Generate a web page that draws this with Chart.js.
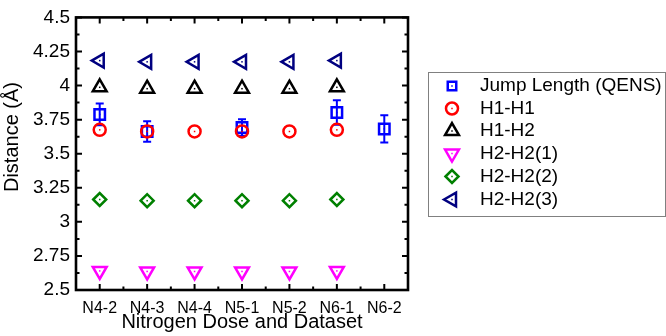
<!DOCTYPE html>
<html><head><meta charset="utf-8">
<script src="https://cdn.jsdelivr.net/npm/chart.js@4/dist/chart.umd.min.js"></script>
<style>html,body{margin:0;padding:0;background:#fff}#wrap{width:666px;height:336px;position:relative}</style>
</head><body><div id="wrap"><canvas id="c" width="666" height="336"></canvas></div>
<script>
const categories = ['N4-2','N4-3','N4-4','N5-1','N5-2','N6-1','N6-2'];
const jumpLength = [3.788, 3.663, null, 3.692, null, 3.802, 3.682];
const jumpError  = [0.08, 0.075, null, 0.06, null, 0.09, 0.1];
const h1h1   = [3.675, 3.663, 3.663, 3.663, 3.663, 3.675, null];
const h1h2   = [3.987, 3.977, 3.977, 3.977, 3.977, 3.987, null];
const h2h2_1 = [2.640, 2.636, 2.636, 2.636, 2.636, 2.640, null];
const h2h2_2 = [3.164, 3.155, 3.155, 3.155, 3.155, 3.164, null];
const h2h2_3 = [4.183, 4.174, 4.174, 4.174, 4.174, 4.183, null];
const yTicks = [2.5, 2.75, 3, 3.25, 3.5, 3.75, 4, 4.25, 4.5];
const seriesNames = ['Jump Length (QENS)','H1-H1','H1-H2','H2-H2(1)','H2-H2(2)','H2-H2(3)'];
const xTitle = 'Nitrogen Dose and Dataset';
const yTitle = 'Distance (Å)';

const FONT = '"Liberation Sans", Arial, sans-serif';

function ds(label, data, color, style, radius, rotation, order){
  return {label, data, borderColor: color, backgroundColor: 'rgba(0,0,0,0)',
    pointStyle: style, pointRadius: radius, pointHoverRadius: radius, pointBorderWidth: 2.5,
    pointRotation: rotation, showLine: false, order, spanGaps: false};
}

const datasets = [
  ds(seriesNames[0], jumpLength, '#0000ff', 'rect', 7.4, 0, 5),
  ds(seriesNames[1], h1h1, '#ff0000', 'circle', 6, 0, 1),
  ds(seriesNames[2], h1h2, '#000000', 'triangle', 8, 0, 1),
  ds(seriesNames[3], h2h2_1, '#ff00ff', 'triangle', 8, 180, 1),
  ds(seriesNames[4], h2h2_2, '#008000', 'rectRot', 6.5, 0, 1),
  ds(seriesNames[5], h2h2_3, '#000080', 'triangle', 8, -90, 1)
];

const errorBars = {
  id: 'errorBars',
  beforeDatasetsDraw(chart){
    const {ctx, scales:{x, y}} = chart;
    ctx.save();
    ctx.strokeStyle = '#0000ff'; ctx.lineWidth = 2;
    ctx.beginPath();
    jumpLength.forEach((v, i) => {
      if (v == null || jumpError[i] == null) return;
      const px = x.getPixelForValue(i);
      const yt = y.getPixelForValue(v + jumpError[i]);
      const yb = y.getPixelForValue(v - jumpError[i]);
      ctx.moveTo(px, yt); ctx.lineTo(px, yb);
      ctx.moveTo(px - 4, yt); ctx.lineTo(px + 4, yt);
      ctx.moveTo(px - 4, yb); ctx.lineTo(px + 4, yb);
    });
    ctx.stroke();
    ctx.restore();
  }
};

const centerDots = {
  id: 'centerDots',
  afterDatasetsDraw(chart){
    const ctx = chart.ctx;
    ctx.save();
    chart.data.datasets.forEach((d, di) => {
      const meta = chart.getDatasetMeta(di);
      ctx.fillStyle = d.borderColor;
      meta.data.forEach((pt, i) => {
        if (d.data[i] == null) return;
        ctx.fillRect(pt.x - 0.75, pt.y - 0.75, 1.5, 1.5);
      });
    });
    ctx.restore();
  }
};

const frame = {
  id: 'frame',
  afterDraw(chart){
    const {ctx, chartArea:{left, right, top, bottom}, scales:{x, y}} = chart;
    ctx.save();
    ctx.strokeStyle = '#000';
    ctx.lineWidth = 2;
    ctx.beginPath();
    yTicks.forEach((t, i) => {
      const py = y.getPixelForValue(t);
      ctx.moveTo(left, py); ctx.lineTo(left + 6, py);
      ctx.moveTo(right, py); ctx.lineTo(right - 6, py);
      if (i < yTicks.length - 1) {
        const pm = y.getPixelForValue((t + yTicks[i + 1]) / 2);
        ctx.moveTo(left, pm); ctx.lineTo(left + 3.5, pm);
        ctx.moveTo(right, pm); ctx.lineTo(right - 3.5, pm);
      }
    });
    const half = (x.getPixelForValue(1) - x.getPixelForValue(0)) / 2;
    categories.forEach((c, i) => {
      const px = x.getPixelForValue(i);
      ctx.moveTo(px, bottom); ctx.lineTo(px, bottom - 6);
      ctx.moveTo(px, top); ctx.lineTo(px, top + 6);
      if (i < categories.length - 1) {
        ctx.moveTo(px + half, bottom); ctx.lineTo(px + half, bottom - 3.5);
        ctx.moveTo(px + half, top); ctx.lineTo(px + half, top + 3.5);
      }
    });
    ctx.stroke();
    ctx.lineWidth = 2.6;
    ctx.strokeRect(left, top, right - left, bottom - top);

    // axis titles
    ctx.fillStyle = '#000';
    ctx.font = '20px ' + FONT;
    ctx.textAlign = 'center'; ctx.textBaseline = 'middle';
    ctx.fillText(xTitle, (left + right) / 2, 322);
    ctx.translate(12, 137);
    ctx.rotate(-Math.PI / 2);
    ctx.fillText(yTitle, 0, 0);
    ctx.restore();

    // legend
    ctx.save();
    ctx.strokeStyle = '#808080'; ctx.lineWidth = 1;
    ctx.strokeRect(428.5, 72.5, 237, 144);
    const rows = [86, 108.5, 131, 153.5, 176.5, 199.5];
    ctx.font = '19px ' + FONT;
    ctx.textAlign = 'left'; ctx.textBaseline = 'middle';
    chart.data.datasets.forEach((d, i) => {
      const r = d.pointStyle === 'rect' ? 6 : d.pointRadius;
      ctx.strokeStyle = d.borderColor; ctx.fillStyle = 'rgba(0,0,0,0)';
      ctx.lineWidth = 2.5;
      Chart.helpers.drawPoint(ctx, {pointStyle: d.pointStyle, radius: r, rotation: d.pointRotation, borderWidth: 2.5}, 452, rows[i]);
      ctx.fillStyle = d.borderColor;
      ctx.fillRect(452 - 0.75, rows[i] - 0.75, 1.5, 1.5);
      ctx.fillStyle = '#000';
      ctx.fillText(d.label, 480, rows[i]);
    });
    ctx.restore();
  }
};

new Chart(document.getElementById('c'), {
  type: 'line',
  data: { labels: categories, datasets },
  options: {
    responsive: false,
    animation: false,
    events: [],
    layout: { padding: { top: 12, right: 258, left: 0, bottom: 0 } },
    plugins: { legend: { display: false }, tooltip: { enabled: false } },
    scales: {
      x: {
        type: 'category', offset: true,
        grid: { display: false, drawTicks: false },
        border: { display: false },
        ticks: { color: '#000', font: { family: FONT, size: 16 }, padding: 9, maxRotation: 0, autoSkip: false },
        afterFit(s){ s.height = 46; }
      },
      y: {
        min: 2.5, max: 4.5,
        grid: { display: false, drawTicks: false },
        border: { display: false },
        afterBuildTicks(s){ s.ticks = yTicks.map(v => ({value: v})); },
        ticks: { color: '#000', font: { family: FONT, size: 19 }, padding: 6,
          callback: v => String(v) },
        afterFit(s){ s.width = 76; }
      }
    }
  },
  plugins: [errorBars, centerDots, frame]
});
</script>
</body></html>
